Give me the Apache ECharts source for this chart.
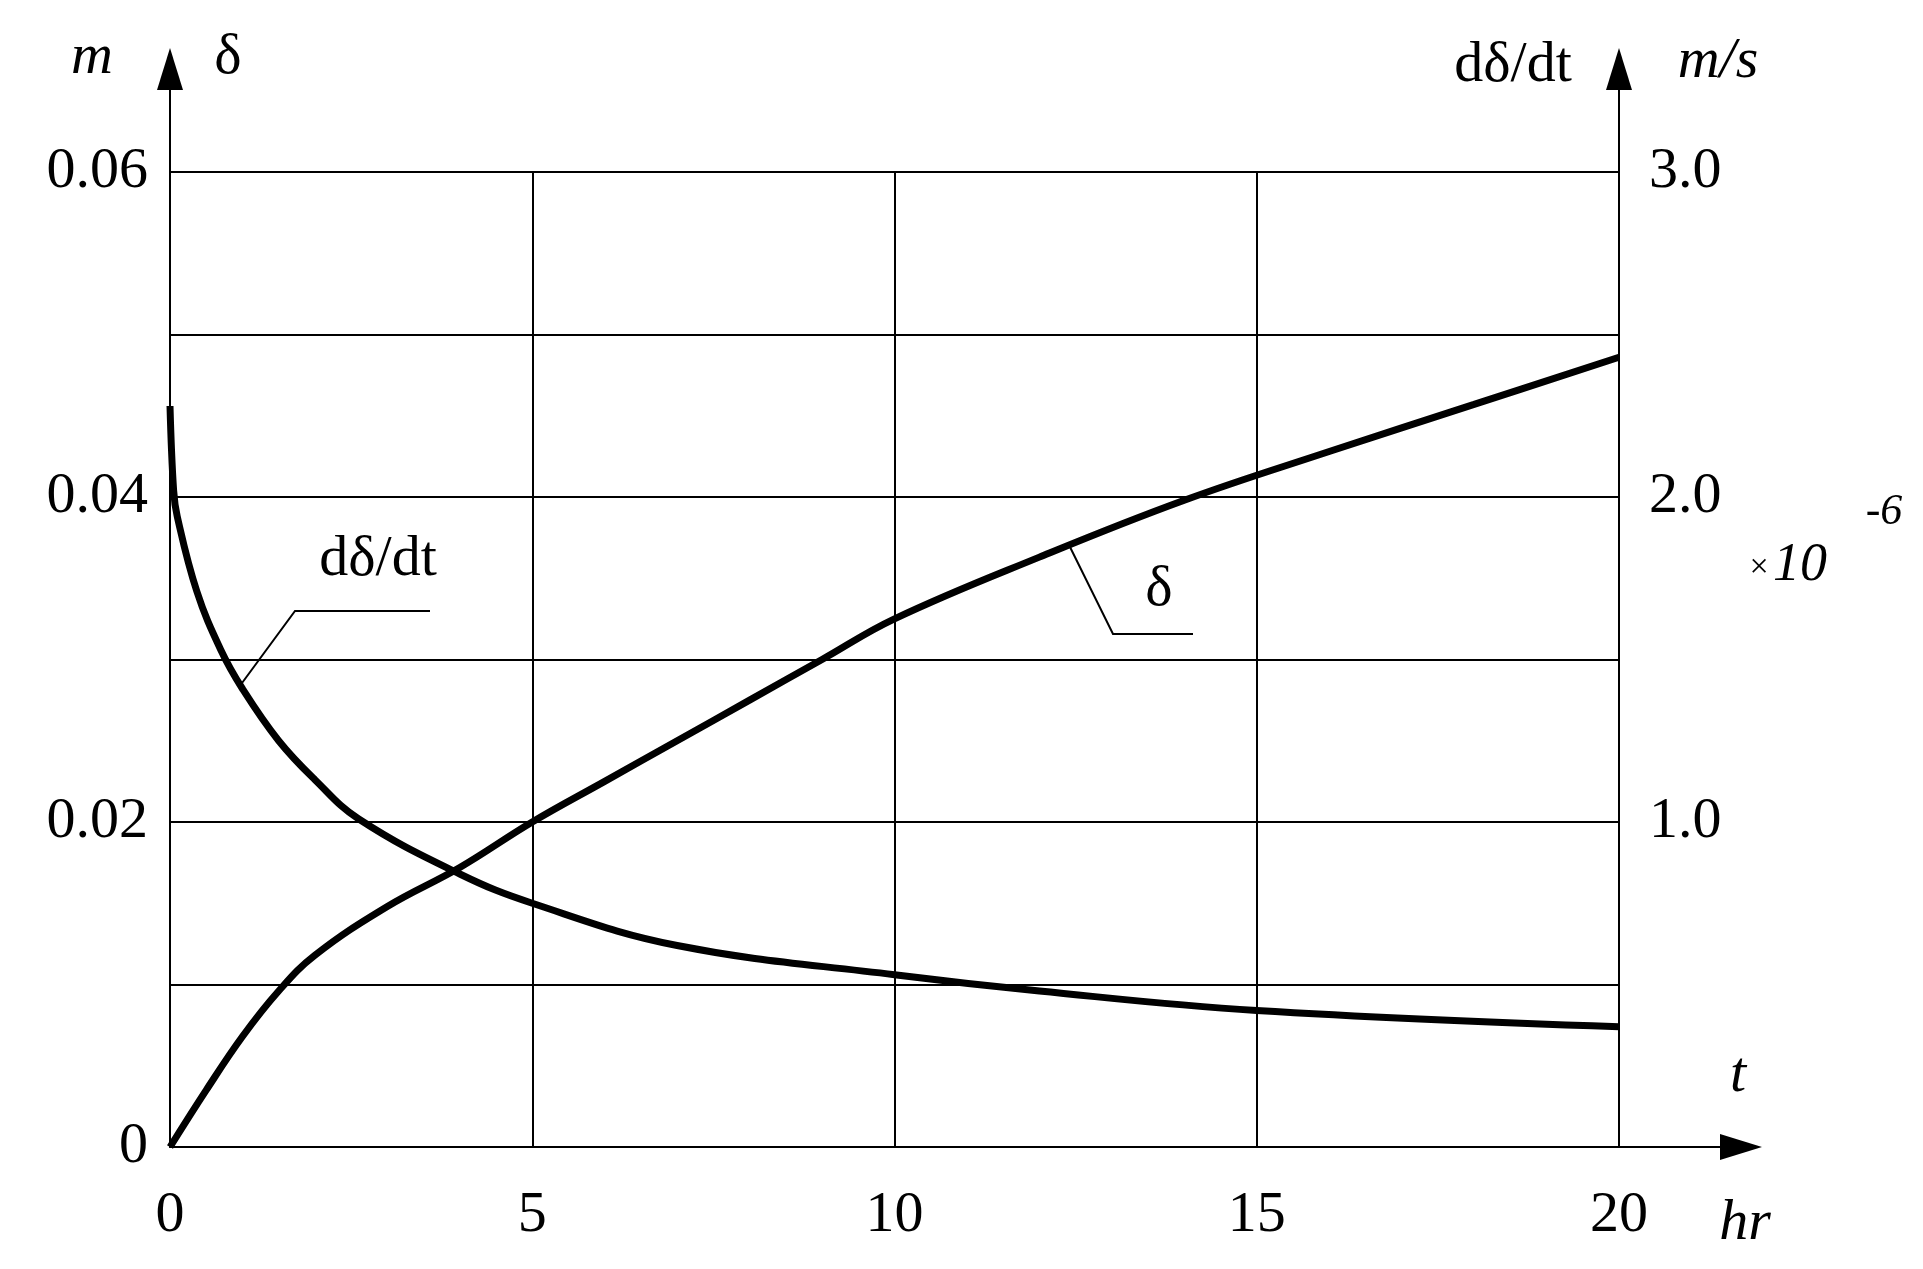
<!DOCTYPE html>
<html>
<head>
<meta charset="utf-8">
<script src="https://cdn.jsdelivr.net/npm/echarts@6/dist/echarts.min.js"></script>
<style>
  html, body { margin: 0; padding: 0; background: #fff; }
  #chart { width: 1923px; height: 1269px; }
</style>
</head>
<body>
<div id="chart"></div>
<script>
// δ (m) against t (hr), left axis
const deltaT = [0, 0.5, 1, 1.5, 2, 3, 4, 5, 6, 7, 8, 9, 10, 12, 14, 16, 18, 20];
const deltaV = [0, 0.0035, 0.0068, 0.0096, 0.0118, 0.0148, 0.0172, 0.0200, 0.0225, 0.0250, 0.0275, 0.0300, 0.0325, 0.0363, 0.0398, 0.0428, 0.0457, 0.0486];
// dδ/dt (×10^-6 m/s) against t (hr), right axis
const rateT = [0, 0.05, 0.1, 0.37, 0.7, 1, 1.5, 2, 2.6, 4, 5, 7, 10, 12, 15, 20];
const rateV = [2.28, 2.02, 1.94, 1.71, 1.53, 1.41, 1.25, 1.13, 1.01, 0.84, 0.75, 0.62, 0.53, 0.48, 0.42, 0.37];
const xTicks = [0, 5, 10, 15, 20];

const chart = echarts.init(document.getElementById('chart'));
const serif = 'Liberation Serif';
const fs = 58;

function zip(a, b) { return a.map((v, i) => [v, b[i]]); }

const G = { left: 170, right: 304, top: 172, bottom: 122 };
const xL = 170, xR = 1619, yB = 1147, yT = 172;

function tri(x, y, dir) {
  // arrow head, tip at (x, y)
  let pts;
  if (dir === 'up') pts = [[x, y], [x - 13, y + 42], [x + 13, y + 42]];
  else pts = [[x, y], [x - 42, y - 13], [x - 42, y + 13]];
  return { type: 'polygon', shape: { points: pts }, style: { fill: '#000' } };
}
function seg(pts) {
  return { type: 'polyline', shape: { points: pts }, style: { stroke: '#000', lineWidth: 2, fill: null } };
}
function txt(x, y, s, size, italic) {
  return {
    type: 'text', x: x, y: y,
    style: { text: s, fontFamily: serif, fontSize: size, fontStyle: italic ? 'italic' : 'normal',
      fill: '#000', align: 'center', verticalAlign: 'middle' }
  };
}

const option = {
  animation: false,
  backgroundColor: '#fff',
  grid: G,
  xAxis: {
    type: 'value', min: 0, max: 20, interval: 5,
    axisLine: { lineStyle: { color: '#000', width: 2 } },
    axisTick: { show: false },
    splitLine: { lineStyle: { color: '#000', width: 2 } },
    axisLabel: { color: '#000', fontFamily: serif, fontSize: fs, margin: 40 }
  },
  yAxis: [
    {
      type: 'value', min: 0, max: 0.06, interval: 0.01,
      axisLine: { show: true, lineStyle: { color: '#000', width: 2 } },
      axisTick: { show: false },
      splitLine: { lineStyle: { color: '#000', width: 2 } },
      axisLabel: {
        color: '#000', fontFamily: serif, fontSize: fs, margin: 22,
        formatter: v => {
          const k = Math.round(v * 100);
          if (k === 0) return '0';
          return k % 2 === 0 ? (k / 100).toFixed(2) : '';
        }
      }
    },
    {
      type: 'value', min: 0, max: 3, interval: 0.5, position: 'right',
      axisLine: { show: true, lineStyle: { color: '#000', width: 2 } },
      axisTick: { show: false },
      splitLine: { show: false },
      axisLabel: {
        color: '#000', fontFamily: serif, fontSize: fs, margin: 30,
        formatter: v => (v > 0 && Math.round(v * 10) % 10 === 0) ? v.toFixed(1) : ''
      }
    }
  ],
  series: [
    {
      name: 'δ', type: 'line', yAxisIndex: 0, smooth: 0.4, symbol: 'none',
      data: zip(deltaT, deltaV), lineStyle: { color: '#000', width: 7 }
    },
    {
      name: 'dδ/dt', type: 'line', yAxisIndex: 1, smooth: 0.4, symbol: 'none',
      data: zip(rateT, rateV), lineStyle: { color: '#000', width: 7 }
    }
  ],
  graphic: [
    seg([[xL, yT], [xL, 80]]), tri(xL, 48, 'up'),
    seg([[xR, yT], [xR, 80]]), tri(xR, 48, 'up'),
    seg([[xR, yB], [xR + 110, yB]]), tri(1762, yB, 'right'),
    txt(92, 58, 'm', fs, true),
    txt(228, 58, 'δ', fs, false),
    txt(1513, 66, 'dδ/dt', fs, false),
    txt(1718, 62, 'm/s', fs, true),
    txt(1738, 1076, 't', fs, true),
    txt(1745, 1224, 'hr', fs, true),
    seg([[242, 683], [295, 611], [430, 611]]),
    txt(378, 560, 'dδ/dt', fs, false),
    seg([[1070, 547], [1113, 634], [1193, 634]]),
    txt(1159, 590, 'δ', fs, false),
    txt(1759, 568, '×', 34, false),
    txt(1800, 566, '10', 54, true),
    txt(1884, 512, '-6', 44, true)
  ]
};
chart.setOption(option);
</script>
</body>
</html>
